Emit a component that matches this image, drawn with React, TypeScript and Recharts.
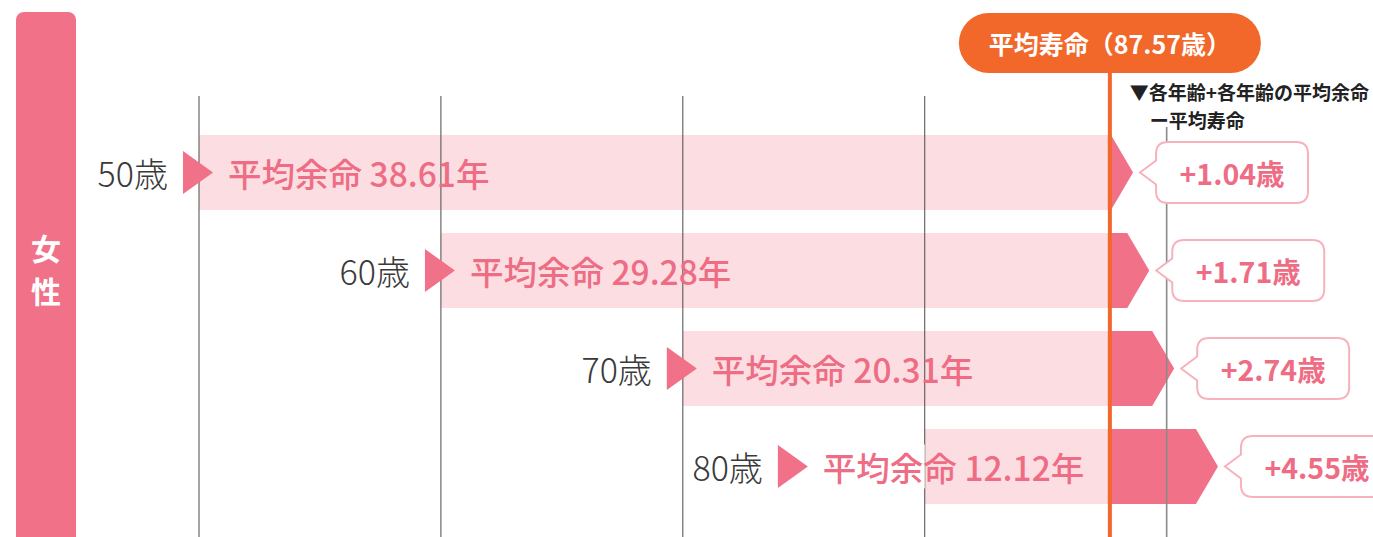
import React from 'react';
import { BarChart, Bar, XAxis, YAxis, ReferenceLine, LabelList } from 'recharts';

// values
const AGES = [50, 60, 70, 80];
const REMAINING = [38.61, 29.28, 20.31, 12.12];
const LIFE_EXPECTANCY = 87.57;
const GRID_AGES = [50, 60, 70, 80, 90];
const SEX_LABEL = ['女', '性'];
const NOTE_LINES = ['▼各年齢+各年齢の平均余命', 'ー平均寿命'];

const FONT = "'Noto Sans CJK JP', 'Noto Sans', sans-serif";
const PINK = '#F07188';
const PINK_TEXT = '#EE6D85';
const LIGHT_PINK = '#F07080';
const ORANGE = '#F2682A';
const CALLOUT_BORDER = '#F8B2BC';

const W = 1373;
const H = 537;
const MARGIN = { top: 123, right: 37, bottom: 22, left: 199 };
const GRID_TOP = 96;
const LAST_GRID_TOP = 127;

const data = AGES.map((age, i) => ({
  label: `${age}歳`,
  age,
  remaining: REMAINING[i],
  range: [age, age + REMAINING[i]],
  diff: age + REMAINING[i] - LIFE_EXPECTANCY,
}));

// x position where the life expectancy line cuts a bar
const splitOf = (x: number, width: number, index: number) => {
  const d = data[index];
  return x + (width * (LIFE_EXPECTANCY - d.age)) / d.remaining;
};

const BarShape = (props: any) => {
  const { x, y, width, height, index } = props;
  const split = splitOf(x, width, index);
  const end = x + width;
  const head = Math.min(22, end - split);
  const cy = y + height / 2;
  return (
    <g>
      <rect x={x} y={y} width={split - x} height={height} fill={LIGHT_PINK} fillOpacity={0.23} />
      <polygon
        points={`${split},${y} ${end - head},${y} ${end},${cy} ${end - head},${y + height} ${split},${y + height}`}
        fill={PINK}
      />
    </g>
  );
};

const LeftLabel = (props: any) => {
  const { x, y, width, height, index } = props;
  const d = data[index];
  const split = splitOf(x, width, index);
  const cy = y + height / 2;
  // label moves left when the bar is too short to hold it
  const tl = Math.min(x - 16, split - 330);
  const shifted = tl < x - 16;
  return (
    <g style={{ fontFamily: FONT }}>
      {shifted && <rect x={tl - 4} y={cy - 22} width={x - tl + 4} height={44} fill="#fff" />}
      <text x={tl - 15} y={cy} textAnchor="end" dominantBaseline="central" fontSize={34} fontWeight={300} fill="#3a3a3a">
        {d.label}
      </text>
      <polygon points={`${tl},${cy - 21.5} ${tl + 30},${cy} ${tl},${cy + 21.5}`} fill={PINK} />
      <text x={tl + 45} y={cy} dominantBaseline="central" fontSize={33.5} fontWeight={500} fill={PINK_TEXT}>
        {`平均余命 ${d.remaining.toFixed(2)}年`}
      </text>
    </g>
  );
};

const Callout = (props: any) => {
  const { x, y, width, height, index } = props;
  const d = data[index];
  const cy = y + height / 2;
  const tip = x + width + 7;
  const L = tip + 16;
  const R = L + 152;
  const T = cy - 30.5;
  const B = cy + 30.5;
  const r = 12;
  const n = 12;
  const path = `M ${L + r} ${T} H ${R - r} Q ${R} ${T} ${R} ${T + r} V ${B - r} Q ${R} ${B} ${R - r} ${B} H ${L + r} Q ${L} ${B} ${L} ${B - r} V ${cy + n} L ${tip} ${cy} L ${L} ${cy - n} V ${T + r} Q ${L} ${T} ${L + r} ${T} Z`;
  return (
    <g>
      <path d={path} fill="#fff" stroke={CALLOUT_BORDER} strokeWidth={2} />
      <text
        x={(L + R) / 2}
        y={cy}
        textAnchor="middle"
        dominantBaseline="central"
        fontSize={28.5}
        fontWeight={700}
        fill={PINK_TEXT}
        style={{ fontFamily: FONT }}
      >
        {`+${d.diff.toFixed(2)}歳`}
      </text>
    </g>
  );
};

const GridLine = (last: boolean) => (props: any) => {
  const { x1 } = props;
  return (
    <line
      x1={x1}
      x2={x1}
      y1={last ? LAST_GRID_TOP : GRID_TOP}
      y2={H}
      stroke={last ? '#8a8a8a' : '#4a4a4a'}
      strokeWidth={last ? 1.6 : 1}
    />
  );
};

const LifeLine = (props: any) => {
  const { x1 } = props;
  const cx = x1 + 2;
  return (
    <g style={{ fontFamily: FONT }}>
      <line x1={cx} x2={cx} y1={70} y2={H} stroke={ORANGE} strokeWidth={4} />
      <rect x={cx - 151} y={13} width={302} height={60} rx={30} fill={ORANGE} />
      <text x={cx} y={43} textAnchor="middle" dominantBaseline="central" fontSize={25} fontWeight={700} fill="#fff">
        {`平均寿命（${LIFE_EXPECTANCY}歳）`}
      </text>
      <text x={cx + 20} y={91} dominantBaseline="central" fontSize={19} fontWeight={700} fill="#222">
        {NOTE_LINES[0]}
      </text>
      <text x={cx + 40} y={119} dominantBaseline="central" fontSize={19} fontWeight={700} fill="#222">
        {NOTE_LINES[1]}
      </text>
    </g>
  );
};

export default function App() {
  return (
    <div style={{ position: 'absolute', left: 0, top: 0, width: W, height: H, overflow: 'hidden', background: '#fff' }}>
      <div
        style={{
          position: 'absolute',
          left: 16,
          top: 12,
          width: 60,
          height: 540,
          background: PINK,
          borderRadius: '8px 8px 0 0',
          color: '#fff',
          fontFamily: FONT,
          fontWeight: 700,
          fontSize: 30,
          lineHeight: '43px',
          textAlign: 'center',
          paddingTop: 214,
          boxSizing: 'border-box',
        }}
      >
        {SEX_LABEL.map((c) => (
          <div key={c}>{c}</div>
        ))}
      </div>
      <div style={{ position: 'absolute', left: 0, top: 0 }}>
        <BarChart width={W} height={H} layout="vertical" data={data} margin={MARGIN}>
          <XAxis type="number" domain={[50, 97]} hide />
          <YAxis type="category" dataKey="label" hide />
          {GRID_AGES.map((a, i) => (
            <ReferenceLine key={a} x={a} ifOverflow="visible" shape={GridLine(i === GRID_AGES.length - 1)} />
          ))}
          <Bar dataKey="range" barSize={75} shape={BarShape} isAnimationActive={false}>
            <LabelList dataKey="remaining" content={LeftLabel} />
            <LabelList dataKey="diff" content={Callout} />
          </Bar>
          <ReferenceLine x={LIFE_EXPECTANCY} ifOverflow="visible" shape={LifeLine} zIndex={1500} />
        </BarChart>
      </div>
    </div>
  );
}
